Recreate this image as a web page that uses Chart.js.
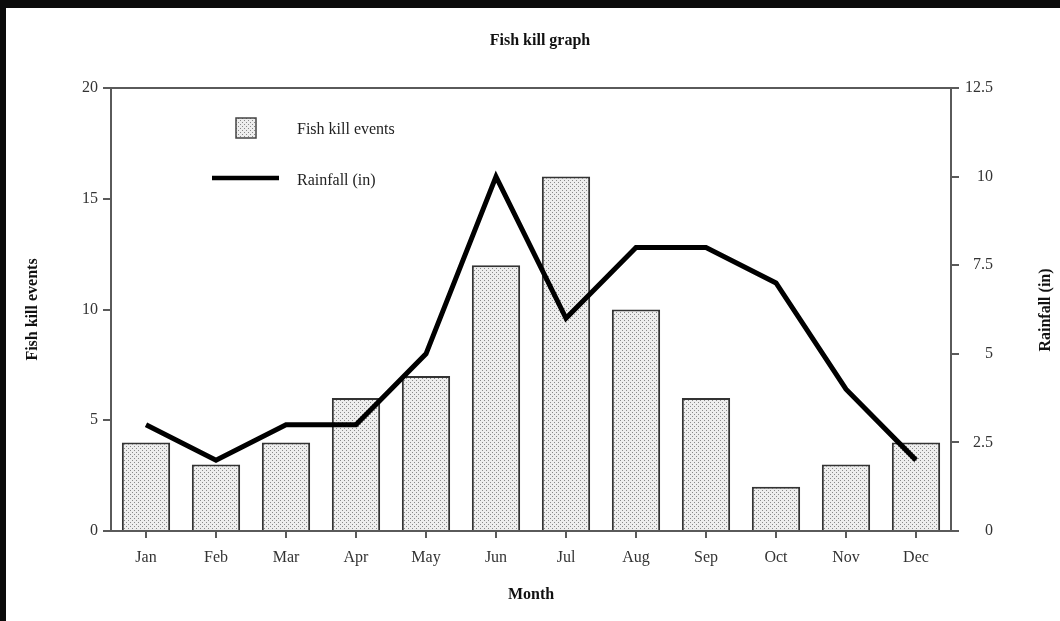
<!DOCTYPE html>
<html>
<head>
<meta charset="utf-8">
<script src="https://cdn.jsdelivr.net/npm/chart.js@4"></script>
<style>
  html, body { margin: 0; padding: 0; background: #0b0b0b; }
  #page { position: absolute; left: 6px; top: 8px; right: 0; bottom: 0; background: #fff; }
  #wrap { position: absolute; left: 0; top: 0; width: 1060px; height: 621px; }
</style>
</head>
<body>
<div id="page"></div>
<div id="wrap"><canvas id="myChart" width="1060" height="621"></canvas></div>
<script>
const months = ["Jan", "Feb", "Mar", "Apr", "May", "Jun", "Jul", "Aug", "Sep", "Oct", "Nov", "Dec"];
const fishKills = [4, 3, 4, 6, 7, 12, 16, 10, 6, 2, 3, 4];
const rainfall = [3, 2, 3, 3, 5, 10, 6, 8, 8, 7, 4, 2];
const leftTicks = [0, 5, 10, 15, 20];
const rightTicks = [0, 2.5, 5, 7.5, 10, 12.5];

const FONT = "'Liberation Serif', 'DejaVu Serif', serif";
const AXIS = "#5a5a5a";

// dotted fill like the old print pattern
const makePattern = () => {
  const c = document.createElement("canvas");
  c.width = 4; c.height = 4;
  const g = c.getContext("2d");
  g.fillStyle = "#eeeeee";
  g.fillRect(0, 0, 4, 4);
  g.fillStyle = "#8a8a8a";
  g.fillRect(0, 0, 1, 1);
  g.fillRect(2, 2, 1, 1);
  return g.createPattern(c, "repeat");
};
const dots = makePattern();

const extras = {
  id: "extras",
  afterDraw: chart => {
    const { ctx, chartArea: a } = chart;
    ctx.save();
    // top frame line
    ctx.strokeStyle = AXIS;
    ctx.lineWidth = 2;
    ctx.beginPath();
    ctx.moveTo(a.left, a.top);
    ctx.lineTo(a.right, a.top);
    ctx.stroke();

    // main title
    ctx.fillStyle = "#111";
    ctx.font = "bold 16px " + FONT;
    ctx.textAlign = "center";
    ctx.textBaseline = "middle";
    ctx.fillText("Fish kill graph", 540, 41);

    // right axis title, reading bottom to top
    ctx.save();
    ctx.translate(1046, 310);
    ctx.rotate(-Math.PI / 2);
    ctx.fillText("Rainfall (in)", 0, 0);
    ctx.restore();

    // legend
    ctx.fillStyle = dots;
    ctx.fillRect(236, 118, 20, 20);
    ctx.strokeStyle = "#444";
    ctx.lineWidth = 1.5;
    ctx.strokeRect(236, 118, 20, 20);
    ctx.strokeStyle = "#000";
    ctx.lineWidth = 4.5;
    ctx.beginPath();
    ctx.moveTo(212, 178);
    ctx.lineTo(279, 178);
    ctx.stroke();
    ctx.fillStyle = "#222";
    ctx.font = "16px " + FONT;
    ctx.textAlign = "left";
    ctx.fillText("Fish kill events", 297, 130);
    ctx.fillText("Rainfall (in)", 297, 181);
    ctx.restore();
  }
};

const tickFont = { family: FONT, size: 16 };

new Chart(document.getElementById("myChart"), {
  data: {
    labels: months,
    datasets: [
      {
        type: "line", label: "Rainfall (in)", data: rainfall, yAxisID: "yRain",
        borderColor: "#000", borderWidth: 5, pointRadius: 0, tension: 0,
        borderJoinStyle: "miter", order: 0
      },
      {
        type: "bar", label: "Fish kill events", data: fishKills, yAxisID: "yFish",
        backgroundColor: dots, borderColor: "#333", borderWidth: 2,
        barPercentage: 0.69, categoryPercentage: 1, order: 1
      }
    ]
  },
  options: {
    responsive: false,
    animation: false,
    layout: { padding: { top: 88, left: 0, right: 67, bottom: 0 } },
    plugins: { legend: { display: false }, tooltip: { enabled: false } },
    scales: {
      x: {
        grid: { drawOnChartArea: false, offset: false, tickLength: 7, color: AXIS, lineWidth: 2 },
        border: { color: AXIS, width: 2 },
        ticks: { font: tickFont, color: "#333", padding: 10 },
        title: { display: true, text: "Month", color: "#111",
          font: { family: FONT, size: 16, weight: "bold" }, padding: { top: 0, bottom: 17 } },
        afterFit: s => { s.height = 90; }
      },
      yFish: {
        position: "left", min: 0, max: 20,
        afterBuildTicks: s => { s.ticks = leftTicks.map(v => ({ value: v })); },
        grid: { drawOnChartArea: false, tickLength: 8, color: AXIS, lineWidth: 2 },
        border: { color: AXIS, width: 2 },
        ticks: { font: tickFont, color: "#333", padding: 5 },
        title: { display: true, text: "Fish kill events", color: "#111",
          font: { family: FONT, size: 16, weight: "bold" }, padding: { top: 23, bottom: 0 } },
        afterFit: s => { s.width = 111; }
      },
      yRain: {
        position: "right", min: 0, max: 12.5,
        afterBuildTicks: s => { s.ticks = rightTicks.map(v => ({ value: v })); },
        grid: { drawOnChartArea: false, tickLength: 8, color: AXIS, lineWidth: 2 },
        border: { color: AXIS, width: 2 },
        ticks: { font: tickFont, color: "#333", padding: 5, crossAlign: "far" },
        afterFit: s => { s.width = 42; }
      }
    }
  },
  plugins: [extras]
});
</script>
</body>
</html>
